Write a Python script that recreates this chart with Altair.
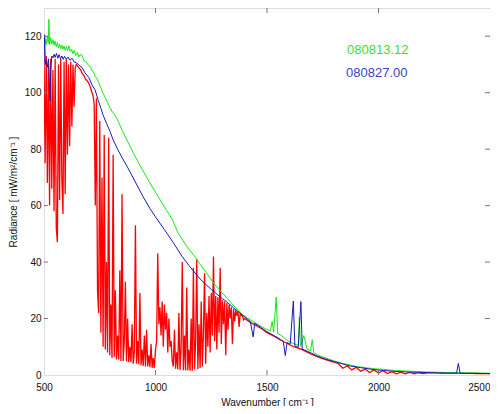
import altair as alt
import pandas as pd

# ---------------- data ----------------
green_x = [500, 505, 510, 515, 519, 522, 525, 530, 535, 540, 545, 549, 555, 560, 565, 570, 575, 580,
           585, 590, 595, 600, 606, 612, 618, 624, 630, 636, 642, 650, 656, 662, 671, 680, 690, 700,
           708, 715, 722, 730, 738, 747, 755, 765, 774, 785, 796, 808, 819, 835, 850, 872, 900, 925,
           950, 975, 1000, 1021, 1050, 1075, 1100, 1141, 1187, 1200, 1230, 1258, 1280, 1300, 1320,
           1348, 1370, 1393, 1410, 1425, 1450, 1475, 1500, 1515, 1523, 1530, 1541, 1548, 1560, 1573,
           1590, 1604, 1620, 1640, 1645, 1650, 1665, 1680, 1695, 1703, 1710, 1725, 1750, 1775, 1800,
           1835, 1873, 1910, 1950, 1985, 2021, 2060, 2100, 2140, 2174, 2210, 2250, 2300, 2350, 2400,
           2450, 2500]
green_y = [116.5, 119, 117, 120, 117.5, 126, 117, 119.5, 117.2, 118.8, 116.8, 118.3, 116.3, 117.8,
           115.9, 117.2, 115.6, 116.9, 115.4, 116.5, 115, 116.4, 114.8, 116.6, 114.5, 115.4, 113.8,
           115, 113.2, 114.3, 112.6, 113.5, 113.2, 111.3, 110.8, 109.6, 109.2, 107.8, 107.4, 105.6,
           105, 103.3, 101.6, 99.8, 98.3, 96.5, 94.6, 93.0, 92.0, 89.5, 86.7, 83.2, 78.8, 75.0, 71.5,
           68.0, 64.8, 62.0, 58.3, 55.2, 50.5, 45.5, 40.9, 39.2, 36.0, 32.8, 30.8, 29.0, 27.2, 24.8,
           23.0, 21.3, 20.3, 19.6, 18.3, 17.2, 16.1, 15.6, 19.0, 15.2, 27.6, 14.6, 14.2, 13.5, 12.3,
           11.7, 11.1, 10.5, 20.5, 10.2, 14.0, 9.1, 8.6, 12.5, 7.9, 7.2, 6.4, 5.7, 5.0, 4.2, 3.5, 2.9,
           2.5, 2.2, 2.0, 1.7, 1.5, 1.35, 1.25, 1.1, 1.0, 0.9, 0.8, 0.75, 0.7, 0.65]

blue_x = [500, 503, 506, 510, 515, 520, 524, 527, 530, 535, 540, 545, 550, 556, 562, 568, 574, 580,
          586, 592, 600, 608, 616, 626, 636, 646, 656, 671, 684, 702, 715, 729, 742, 755, 765, 780,
          796, 810, 830, 850, 872, 900, 944, 975, 1000, 1040, 1079, 1119, 1150, 1200, 1250, 1300,
          1321, 1350, 1393, 1425, 1438, 1445, 1470, 1500, 1530, 1560, 1573, 1582, 1590, 1604, 1618,
          1625, 1640, 1652, 1658, 1670, 1700, 1725, 1760, 1800, 1840, 1873, 1920, 1970, 2021, 2070,
          2120, 2170, 2220, 2270, 2320, 2350, 2358, 2366, 2400, 2450, 2500]
blue_y = [111, 120.5, 110, 111.5, 109, 112, 104, 97, 108, 113, 112.3, 113.6, 112.5, 113.9, 112.2,
          113.5, 112, 113, 111.8, 112.9, 111.9, 112.6, 111.5, 112.2, 110.8, 110.6, 109.8, 108.9, 107,
          105.3, 102.8, 101, 97.6, 94.5, 92, 89.2, 86.3, 83.3, 80, 77, 74, 69.8, 63.2, 59, 56, 51.5,
          47, 42, 38.8, 34, 30.3, 27, 25.8, 23.8, 21, 19, 13.5, 18.3, 17, 15.3, 14, 12.6, 11.9, 6.9,
          11.5, 10.9, 26.2, 10.2, 9.8, 26, 9.2, 8.8, 7.7, 6.7, 5.7, 4.8, 3.9, 3.2, 2.6, 2.0, 1.6, 1.3,
          1.1, 0.95, 0.85, 0.75, 0.68, 0.65, 4.1, 0.64, 0.6, 0.55, 0.5]

# red spectrum: 500..1400 every 5 cm-1, then 1420..2500 every 20 cm-1
red_y_fine = [
    # 500-640
    112, 75, 113, 68, 110, 60, 112, 66, 108, 58, 112, 52, 47, 110, 62, 112, 70, 57, 111, 64,
    112, 78, 110, 81, 111, 88, 110, 95, 109,
    # 645-720
    110, 109.5, 109, 108.5, 108, 107, 106.5, 106, 105, 104.5, 104, 103.5, 102.5, 101.5, 100, 99,
    # 725-800
    96, 60, 98, 30, 22, 90, 15, 70, 10, 85, 9, 40, 8, 84, 7, 25,
    # 805-1000
    6, 78, 6.5, 30, 5.5, 14, 5.5, 37, 5, 64, 5, 12, 33, 4.8, 20, 4.5, 10, 4.5, 18, 4,
    8, 53, 4, 12, 3.8, 29, 3.5, 9, 3.2, 14, 3, 16, 3, 7, 2.8, 11, 2.5, 6, 2.4, 9,
    # 1005-1070
    12, 43, 18, 24, 14, 26, 10, 25, 16, 22, 8, 20, 10, 12,
    # 1075-1230
    5, 3, 16, 2.2, 8, 2, 22, 1.8, 10, 40, 1.7, 14, 1.6, 31, 1.6, 9, 1.5, 20, 1.5, 38,
    2, 12, 41, 2, 18, 2.5, 26, 3, 15, 36, 4, 22,
    # 1235-1400
    10, 28, 8, 29, 14, 42, 12, 28, 9, 27.5, 15, 38, 11, 26.5, 18, 26, 7, 25.5, 16, 25,
    20, 24, 11, 23.5, 19, 23, 21, 22.5, 17, 22, 21, 21, 19.5, 20,
]
red_y_coarse = [
    18.9, 18.0, 17.1, 16.2, 15.0, 14.2, 13.4, 12.4, 11.6, 10.8, 10.0, 9.5, 8.9, 8.1, 7.4,
    6.7, 6.1, 5.5, 5.0, 4.6, 4.0, 2.4, 3.3, 1.8, 2.7, 1.3, 2.1, 0.9, 1.8, 0.7, 1.5, 0.5,
    1.2, 0.4, 1.0, 0.4, 0.9, 0.4, 0.8, 0.5, 0.8, 0.75, 0.72, 0.7, 0.68, 0.66, 0.64, 0.62,
    0.6, 0.58, 0.56, 0.54, 0.52, 0.5, 0.48,
]
red_x = list(range(500, 1401, 5)) + list(range(1420, 2501, 20))
red_y = red_y_fine + red_y_coarse

x_ticks = [500, 1000, 1500, 2000, 2500]
y_ticks = [0, 20, 40, 60, 80, 100, 120]
legend_labels = ["080813.12", "080827.00"]

# ---------------- chart ----------------
W, H = 446, 367
FONT = "Liberation Sans"
xs = alt.Scale(domain=[500, 2500], nice=False, zero=False)
ys = alt.Scale(domain=[0, 130], nice=False, zero=True)

x_axis = alt.Axis(values=x_ticks, format="d", title="Wavenumber [ cm\u207b\u00b9 ]", tickSize=0,
                  labelPadding=7, domain=False, grid=False, labelFont=FONT, labelFontSize=10,
                  labelColor="#111", titleFont=FONT, titleFontSize=10, titleFontWeight="normal",
                  titleColor="#111", titlePadding=5, labelFlush=False,
                  labelAlign={"expr": "datum.value >= 2500 ? 'right' : 'center'"})
y_axis = alt.Axis(values=y_ticks, format="d", title="Radiance [ mW/m\u00b2/cm\u207b\u00b9 ]", tickSize=0,
                  labelPadding=3, domain=False, grid=False, labelFont=FONT, labelFontSize=10,
                  labelColor="#111", titleFont=FONT, titleFontSize=10, titleFontWeight="normal",
                  titleColor="#111", titlePadding=6)


def spectrum(xv, yv, color, width):
    df = pd.DataFrame({"w": xv, "r": yv, "i": list(range(len(xv)))})
    return alt.Chart(df).mark_line(color=color, strokeWidth=width, clip=True).encode(
        x=alt.X("w:Q", scale=xs, axis=x_axis),
        y=alt.Y("r:Q", scale=ys, axis=y_axis),
        order="i:Q",
    )


red = spectrum(red_x, red_y, "#ff0000", 1.3)
green = spectrum(green_x, green_y, "#19e619", 1.0)
blue = spectrum(blue_x, blue_y, "#1a1ab8", 1.0)

xt = pd.DataFrame({"w": x_ticks[1:-1]})
yt = pd.DataFrame({"r": y_ticks[1:]})
tick_style = dict(color="#777777", strokeWidth=1)
ticks = [
    alt.Chart(xt).mark_rule(**tick_style).encode(x=alt.X("w:Q", scale=xs, axis=x_axis),
                                                  y=alt.value(H), y2=alt.value(H - 5)),
    alt.Chart(xt).mark_rule(**tick_style).encode(x=alt.X("w:Q", scale=xs, axis=x_axis),
                                                  y=alt.value(0), y2=alt.value(5)),
    alt.Chart(yt).mark_rule(**tick_style).encode(y=alt.Y("r:Q", scale=ys, axis=y_axis),
                                                  x=alt.value(0), x2=alt.value(4)),
    alt.Chart(yt).mark_rule(**tick_style).encode(y=alt.Y("r:Q", scale=ys, axis=y_axis),
                                                  x=alt.value(W), x2=alt.value(W - 5)),
]

lab_df = pd.DataFrame({"t": legend_labels})
lab_green = alt.Chart(lab_df.iloc[[0]]).mark_text(
    align="left", baseline="middle", font=FONT, fontSize=13, color="#3ddc3d"
).encode(text="t:N", x=alt.value(303), y=alt.value(42))
lab_blue = alt.Chart(lab_df.iloc[[1]]).mark_text(
    align="left", baseline="middle", font=FONT, fontSize=13, color="#3f3fc4"
).encode(text="t:N", x=alt.value(302), y=alt.value(65))

chart = alt.layer(red, green, blue, *ticks, lab_green, lab_blue).properties(
    width=W, height=H,
    autosize=alt.AutoSizeParams(type="none"),
    padding={"left": 36, "top": 0, "right": 0, "bottom": 31},
).configure_view(stroke="#8c8c8c", strokeWidth=1.3).configure(background="white")

chart.save("out.html", embed_options={"renderer": "svg", "actions": False})
